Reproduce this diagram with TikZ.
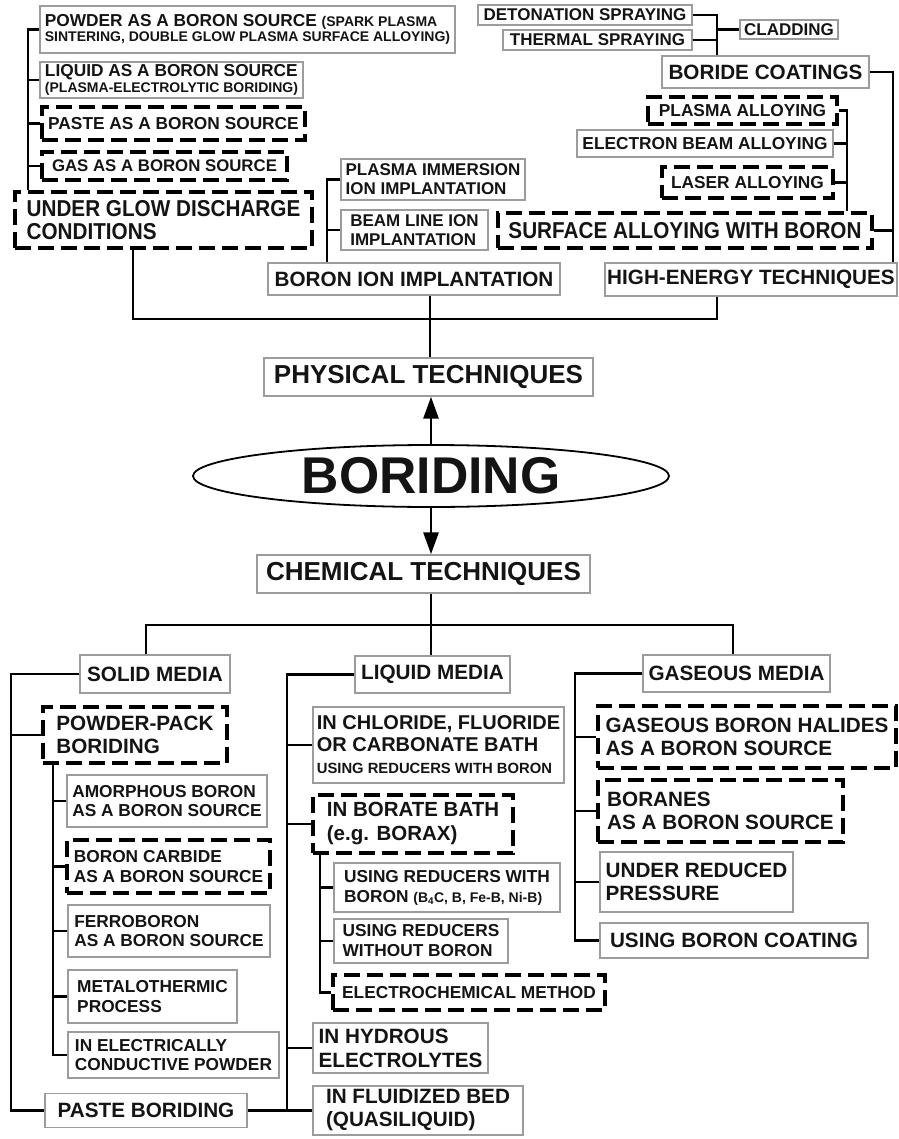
\documentclass[tikz,border=0pt]{standalone}
\usepackage{fontspec}
\setmainfont{Liberation Sans}
\newfontfamily\narfont{Liberation Sans}[FakeStretch=0.9]
\usetikzlibrary{shapes.geometric,arrows.meta}
\definecolor{boxgray}{HTML}{9C9C9C}
\definecolor{inkblack}{HTML}{141414}
\newcommand\FtS{\fontsize{14}{15}\selectfont}
\newcommand\FtA{\fontsize{17.3}{19.5}\selectfont}
\newcommand\FtB{\fontsize{20.7}{23}\selectfont}
\newcommand\FtC{\fontsize{26}{28}\selectfont}
\newcommand\FtN{\narfont\fontsize{23}{22.5}\selectfont}
\newcommand\FtBig{\fontsize{51.7}{54}\selectfont}
\tikzset{
  tbox/.style={draw=boxgray, line width=1.4pt, inner sep=0pt, align=left, font=\bfseries\FtA, text=inkblack},
  dbox/.style={tbox, draw=black, line width=3.4pt, dash pattern=on 16pt off 7pt},
  medtxt/.style={font=\bfseries\FtB},
  conn/.style={draw=black, line width=2.8pt},
  arr/.style={-{Triangle[length=22pt,width=15pt]}}
}
\begin{document}
\begin{tikzpicture}[x=1pt,y=-1pt]
\useasboundingbox (0,0) rectangle (898,1139);

% ---------- top left: glow discharge
\node[tbox, minimum width=415pt, minimum height=47pt, font=\bfseries\fontsize{17.3}{15}\selectfont] (powder) at (247.5,29.5) {POWDER AS A BORON SOURCE {\FtS (SPARK PLASMA}\\{\FtS SINTERING, DOUBLE GLOW PLASMA SURFACE ALLOYING)}};
\node[tbox, minimum width=263pt, minimum height=36pt, font=\bfseries\fontsize{17.3}{16}\selectfont] (liquid) at (171.5,80) {LIQUID AS A BORON SOURCE\\{\FtS (PLASMA-ELECTROLYTIC BORIDING)}};
\node[dbox, minimum width=263pt, minimum height=33pt] (paste) at (173.5,123.5) {PASTE AS A BORON SOURCE};
\node[dbox, minimum width=245pt, minimum height=28pt, font=\bfseries\fontsize{16.8}{18}\selectfont] (gas) at (164.5,166) {GAS AS A BORON SOURCE};
\node[dbox, minimum width=297pt, minimum height=56pt, font=\bfseries\FtN] (glow) at (163.5,220) {UNDER GLOW DISCHARGE\\CONDITIONS};

% ---------- ion implantation
\node[tbox, minimum width=184pt, minimum height=41pt, font=\bfseries\fontsize{17}{19}\selectfont] (plasmaimm) at (433,179.5) {PLASMA IMMERSION\\ION IMPLANTATION};
\node[tbox, minimum width=147pt, minimum height=40pt, font=\bfseries\fontsize{17}{19}\selectfont] (beamline) at (414.5,230) {BEAM LINE ION\\IMPLANTATION};
\node[tbox, minimum width=292pt, minimum height=32pt, medtxt] (boronion) at (414,279) {BORON ION IMPLANTATION};
\node[tbox, minimum width=292pt, minimum height=33pt, medtxt] (highenergy) at (751,279.5) {HIGH-ENERGY TECHNIQUES};

% ---------- top right: high energy
\node[tbox, minimum width=214pt, minimum height=20pt, font=\bfseries\fontsize{17}{18}\selectfont] (deton) at (585,15) {DETONATION SPRAYING};
\node[tbox, minimum width=189pt, minimum height=20pt, font=\bfseries\fontsize{17}{18}\selectfont] (thermal) at (597.5,40) {THERMAL SPRAYING};
\node[tbox, minimum width=98pt, minimum height=19pt, font=\bfseries\fontsize{17}{18}\selectfont] (cladding) at (789,29.5) {CLADDING};
\node[tbox, minimum width=207pt, minimum height=32pt, medtxt] (boride) at (765.5,72) {BORIDE COATINGS};
\node[dbox, minimum width=189pt, minimum height=27pt] (plasmaalloy) at (742.5,110.5) {PLASMA ALLOYING};
\node[tbox, minimum width=256pt, minimum height=27pt] (ebeam) at (705,143.5) {ELECTRON BEAM ALLOYING};
\node[dbox, minimum width=171pt, minimum height=31pt] (laser) at (747.5,182.5) {LASER ALLOYING};
\node[dbox, minimum width=374pt, minimum height=35pt, font=\bfseries\FtN] (surface) at (685,230.5) {SURFACE ALLOYING WITH BORON};

% ---------- centre
\node[tbox, minimum width=329pt, minimum height=38pt, font=\bfseries\FtC] (physical) at (428.5,377) {PHYSICAL TECHNIQUES};
\node[ellipse, draw=black, line width=1.8pt, minimum width=476pt, minimum height=62pt, inner sep=0pt, font=\bfseries\FtBig, text=inkblack] (boriding) at (431,476) {BORIDING};
\node[tbox, minimum width=333pt, minimum height=38pt, font=\bfseries\FtC] (chemical) at (423.5,574) {CHEMICAL TECHNIQUES};

\node[tbox, minimum width=150pt, minimum height=38pt, medtxt] (solid) at (155,674) {SOLID MEDIA};
\node[tbox, minimum width=155pt, minimum height=37pt, medtxt] (liquidmedia) at (432.5,674.5) {LIQUID MEDIA};
\node[tbox, minimum width=187pt, minimum height=37pt, medtxt] (gasmedia) at (736.5,673.5) {GASEOUS MEDIA};

% ---------- solid media
\node[dbox, minimum width=184pt, minimum height=56pt, medtxt] (powderpack) at (135,735) {POWDER-PACK\\BORIDING};
\node[tbox, minimum width=200pt, minimum height=52pt] (amorphous) at (167,801) {AMORPHOUS BORON\\AS A BORON SOURCE};
\node[dbox, minimum width=203pt, minimum height=53pt] (carbide) at (168.5,866.5) {BORON CARBIDE\\AS A BORON SOURCE};
\node[tbox, minimum width=202pt, minimum height=52pt] (ferro) at (169,931) {FERROBORON\\AS A BORON SOURCE};
\node[tbox, minimum width=169pt, minimum height=53pt] (metalo) at (152.5,996.5) {METALOTHERMIC\\PROCESS};
\node[tbox, minimum width=211pt, minimum height=46pt] (electr) at (173.5,1055) {IN ELECTRICALLY\\CONDUCTIVE POWDER};
\node[tbox, minimum width=202pt, minimum height=34pt, medtxt] (pasteb) at (146,1110.5) {PASTE BORIDING};

% ---------- liquid media
\node[tbox, minimum width=251pt, minimum height=76pt, font=\bfseries\fontsize{20}{22}\selectfont] (chloride) at (438.5,745) {IN CHLORIDE, FLUORIDE\\OR CARBONATE BATH\\{\fontsize{14.8}{16}\selectfont USING REDUCERS WITH BORON}};
\node[dbox, minimum width=200pt, minimum height=58pt, font=\bfseries\fontsize{20.5}{24}\selectfont] (borate) at (413,824) {IN BORATE BATH\\(e.g. BORAX)};
\node[tbox, minimum width=226pt, minimum height=49pt, font=\bfseries\fontsize{17.3}{20}\selectfont] (withboron) at (447,887.5) {USING REDUCERS WITH\\BORON {\FtS (B\textsubscript{4}C, B, Fe-B, Ni-B)}};
\node[tbox, minimum width=174pt, minimum height=44pt, font=\bfseries\fontsize{17.3}{20}\selectfont] (without) at (421,941) {USING REDUCERS\\WITHOUT BORON};
\node[dbox, minimum width=272pt, minimum height=35pt] (electrochem) at (469,992.5) {ELECTROCHEMICAL METHOD};
\node[tbox, minimum width=175pt, minimum height=50pt, font=\bfseries\fontsize{20.7}{24}\selectfont] (hydrous) at (400.5,1048) {IN HYDROUS\\ELECTROLYTES};
\node[tbox, minimum width=210pt, minimum height=49pt, medtxt] (fluid) at (418,1110.5) {IN FLUIDIZED BED\\(QUASILIQUID)};

% ---------- gaseous media
\node[dbox, minimum width=298pt, minimum height=62pt, medtxt] (halides) at (747,737) {GASEOUS BORON HALIDES\\AS A BORON SOURCE};
\node[dbox, minimum width=245pt, minimum height=62pt, medtxt] (boranes) at (720.5,811) {BORANES\\AS A BORON SOURCE};
\node[tbox, minimum width=193pt, minimum height=60pt, medtxt] (reduced) at (696.5,882) {UNDER REDUCED\\PRESSURE};
\node[tbox, minimum width=268pt, minimum height=35pt, medtxt] (coating) at (734,940.5) {USING BORON COATING};

% ---------- connector coordinates
\coordinate (tlx) at (28,0);
\coordinate (gdx) at (133,0);
\coordinate (hub) at (430,319);
\coordinate (hex) at (717,0);
\coordinate (bix) at (327,0);
\coordinate (trx) at (717,0);
\coordinate (sax) at (847,0);
\coordinate (rx) at (893,0);
\coordinate (cl) at (146,625);
\coordinate (cr) at (733,625);
\coordinate (sx) at (11,0);
\coordinate (ppx) at (53,0);
\coordinate (lx) at (287,0);
\coordinate (bx) at (320,0);
\coordinate (gx) at (575,0);

% top left
\draw[conn] (powder.west) -| (tlx |- glow.north);
\draw[conn] (liquid.west) -- (tlx |- liquid.west);
\draw[conn] (paste.west) -- (tlx |- paste.west);
\draw[conn] (gas.west) -- (tlx |- gas.west);
% physical tree
\draw[conn] (gdx |- glow.south) |- (hub) -| (hex |- highenergy.south);
\draw[conn] (hub |- boronion.south) -- (hub |- physical.north);
\draw[conn] (plasmaimm.west) -| (bix |- boronion.north);
\draw[conn] (beamline.west) -- (bix |- beamline.west);
% top right
\draw[conn] (deton.east) -| (trx |- boride.north);
\draw[conn] (thermal.east) -- (trx |- thermal.east);
\draw[conn] (cladding.west) -- (trx |- cladding.west);
\draw[conn] (plasmaalloy.east) -| (sax |- surface.north);
\draw[conn] (ebeam.east) -- (sax |- ebeam.east);
\draw[conn] (laser.east) -- (sax |- laser.east);
\draw[conn] (boride.east) -| (rx |- highenergy.north);
\draw[conn] (surface.east) -- (rx |- surface.east);
% arrows
\draw[conn, arr] (boriding.north) -- (boriding.north |- physical.south);
\draw[conn, arr] (boriding.south) -- (boriding.south |- chemical.north);
% chemical tree
\draw[conn] (boriding.south |- chemical.south) -- (boriding.south |- liquidmedia.north);
\draw[conn] (cl |- solid.north) -- (cl) -- (cr) -- (cr |- gasmedia.north);
% solid
\draw[conn] (solid.west) -| (sx |- pasteb.west) -- (pasteb.west);
\draw[conn] (powderpack.west) -- (sx |- powderpack.west);
\draw[conn] (ppx |- powderpack.south) |- (electr.west);
\draw[conn] (amorphous.west) -- (ppx |- amorphous.west);
\draw[conn] (carbide.west) -- (ppx |- carbide.west);
\draw[conn] (ferro.west) -- (ppx |- ferro.west);
\draw[conn] (metalo.west) -- (ppx |- metalo.west);
% liquid
\draw[conn] (liquidmedia.west) -| (lx |- fluid.west) -- (fluid.west);
\draw[conn] (pasteb.east) -- (lx |- pasteb.east);
\draw[conn] (chloride.west) -- (lx |- chloride.west);
\draw[conn] (borate.west) -- (lx |- borate.west);
\draw[conn] (hydrous.west) -- (lx |- hydrous.west);
\draw[conn] (bx |- borate.south) |- (electrochem.west);
\draw[conn] (withboron.west) -- (bx |- withboron.west);
\draw[conn] (without.west) -- (bx |- without.west);
% gaseous
\draw[conn] (gasmedia.west) -| (gx |- coating.west) -- (coating.west);
\draw[conn] (halides.west) -- (gx |- halides.west);
\draw[conn] (boranes.west) -- (gx |- boranes.west);
\draw[conn] (reduced.west) -- (gx |- reduced.west);
\end{tikzpicture}
\end{document}
